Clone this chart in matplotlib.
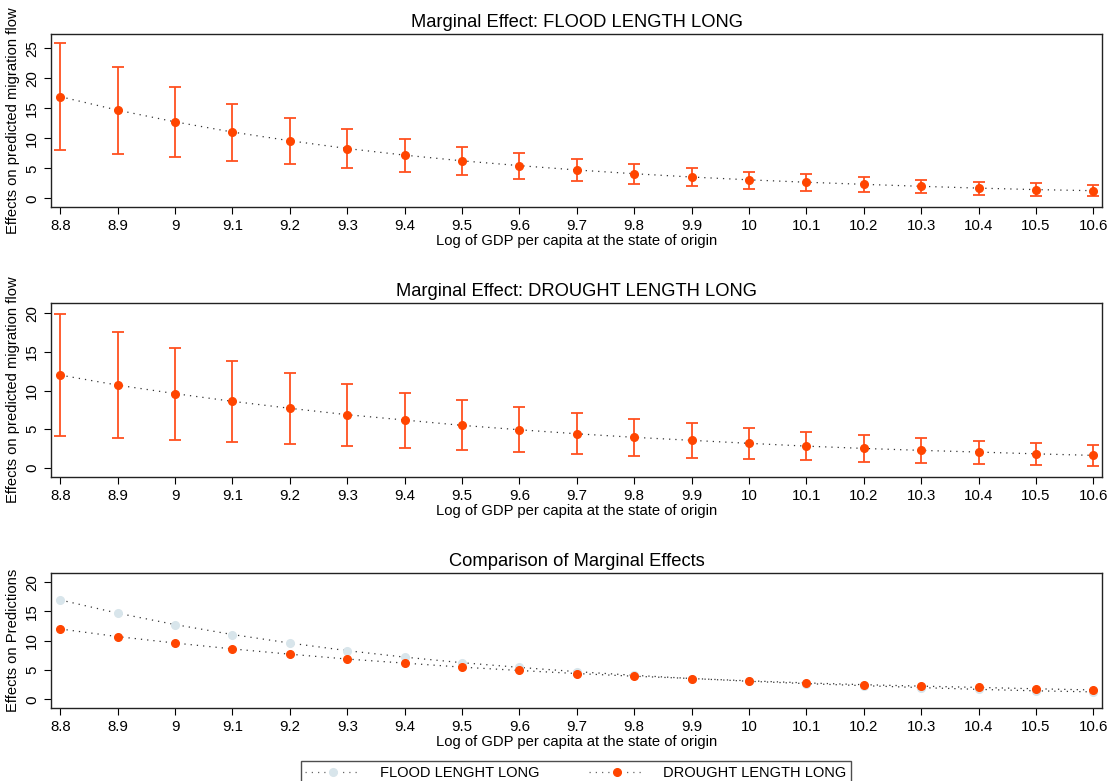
import matplotlib
matplotlib.use("Agg")
import matplotlib.pyplot as plt
from matplotlib.lines import Line2D
from matplotlib.legend_handler import HandlerBase

plt.rcParams['font.family'] = ['Liberation Sans', 'DejaVu Sans']

x = [8.8, 8.9, 9.0, 9.1, 9.2, 9.3, 9.4, 9.5, 9.6, 9.7, 9.8, 9.9, 10.0, 10.1, 10.2, 10.3, 10.4, 10.5, 10.6]
x_labels = ["8.8", "8.9", "9", "9.1", "9.2", "9.3", "9.4", "9.5", "9.6", "9.7", "9.8", "9.9",
            "10", "10.1", "10.2", "10.3", "10.4", "10.5", "10.6"]

flood_est = [16.95, 14.7, 12.75, 11.05, 9.6, 8.3, 7.2, 6.25, 5.45, 4.72, 4.1, 3.55, 3.08, 2.68, 2.33, 2.0, 1.7, 1.45, 1.27]
flood_lo = [8.05, 7.45, 6.9, 6.3, 5.65, 5.0, 4.45, 3.9, 3.27, 2.83, 2.44, 2.0, 1.55, 1.27, 1.0, 0.83, 0.6, 0.43, 0.33]
flood_hi = [25.85, 21.85, 18.55, 15.75, 13.45, 11.6, 9.95, 8.6, 7.5, 6.55, 5.77, 5.05, 4.4, 4.0, 3.55, 3.1, 2.77, 2.5, 2.2]

drought_est = [12.0, 10.7, 9.6, 8.6, 7.7, 6.87, 6.18, 5.49, 4.92, 4.4, 3.94, 3.55, 3.16, 2.8, 2.5, 2.25, 2.03, 1.8, 1.6]
drought_lo = [4.1, 3.9, 3.6, 3.37, 3.1, 2.85, 2.55, 2.25, 2.03, 1.77, 1.51, 1.3, 1.08, 0.95, 0.78, 0.65, 0.48, 0.35, 0.26]
drought_hi = [19.95, 17.6, 15.5, 13.8, 12.3, 10.9, 9.72, 8.73, 7.82, 7.04, 6.35, 5.75, 5.2, 4.67, 4.27, 3.9, 3.5, 3.2, 2.94]

titles = ["Marginal Effect: FLOOD LENGTH LONG", "Marginal Effect: DROUGHT LENGTH LONG", "Comparison of Marginal Effects"]
ylabels = ["Effects on predicted migration flow", "Effects on predicted migration flow", "Effects on Predictions"]
xlabel = "Log of GDP per capita at the state of origin"
legend_labels = ["FLOOD LENGHT LONG", "DROUGHT LENGTH LONG"]

ORANGE = "#FF4500"
ERR = "#FF5020"
LIGHT = "#D8E5EB"
DOT = (0, (1, 4))

W, H = 1112, 781
fig = plt.figure(figsize=(W / 100, H / 100), dpi=100)

def add_ax(top, bottom, left=51, right=1102.3):
    return fig.add_axes([left / W, 1 - bottom / H, (right - left) / W, (bottom - top) / H])

ax1 = add_ax(34, 207.3)
ax2 = add_ax(303.3, 477)
ax3 = add_ax(572.7, 708.3)

def style(ax, title, ylabel, yticks, ylim):
    ax.set_xlim(8.7838, 10.6157)
    ax.set_ylim(*ylim)
    ax.set_xticks(x)
    ax.set_xticklabels(x_labels)
    ax.set_yticks(yticks)
    ax.set_yticklabels([str(t) for t in yticks])
    ax.tick_params(axis='both', labelsize=10.8, length=5, width=0.8, color='black')
    ax.tick_params(axis='y', labelrotation=90)
    for lab in ax.get_yticklabels():
        lab.set_verticalalignment('center')
    ax.set_title(title, fontsize=13.2, pad=5)
    ax.set_ylabel(ylabel, fontsize=10.6, labelpad=4)
    ax.set_xlabel(xlabel, fontsize=10.6, labelpad=1)
    for s in ax.spines.values():
        s.set_linewidth(1.0)
        s.set_color('#222222')

def ci_panel(ax, est, lo, hi):
    ax.plot(x, est, linestyle=DOT, color='#333333', linewidth=0.9, zorder=2)
    yerr = [[e - l for e, l in zip(est, lo)], [h - e for e, h in zip(est, hi)]]
    ax.errorbar(x, est, yerr=yerr, fmt='none', ecolor=ERR, elinewidth=1.3, capsize=4, capthick=1.3, zorder=3)
    ax.plot(x, est, 'o', color=ORANGE, markersize=5.5, zorder=4)

ci_panel(ax1, flood_est, flood_lo, flood_hi)
style(ax1, titles[0], ylabels[0], [0, 5, 10, 15, 20, 25], (-1.5, 27.4))

ci_panel(ax2, drought_est, drought_lo, drought_hi)
style(ax2, titles[1], ylabels[1], [0, 5, 10, 15, 20], (-1.2, 21.3))

ax3.plot(x, flood_est, linestyle=DOT, color='#333333', linewidth=0.9, zorder=2)
ax3.plot(x, flood_est, 'o', color=LIGHT, markersize=5.5, zorder=3)
ax3.plot(x, drought_est, linestyle=DOT, color='#333333', linewidth=0.9, zorder=2)
ax3.plot(x, drought_est, 'o', color=ORANGE, markersize=5.5, zorder=4)
style(ax3, titles[2], ylabels[2], [0, 5, 10, 15, 20], (-1.53, 21.6))


class DotMarkerHandler(HandlerBase):
    def create_artists(self, legend, orig_handle, xdescent, ydescent, width, height, fontsize, trans):
        y = height / 2 - ydescent
        c = orig_handle.get_markerfacecolor()
        ln = Line2D([-xdescent, width - xdescent], [y, y], linestyle=DOT, color='#666666', linewidth=0.9)
        mk = Line2D([width / 2 - xdescent], [y], linestyle='none', marker='o', markersize=5.5,
                    markerfacecolor=c, markeredgecolor=c)
        ln.set_transform(trans)
        mk.set_transform(trans)
        return [ln, mk]


handles = [Line2D([], [], marker='o', markerfacecolor=c, markeredgecolor=c) for c in (LIGHT, ORANGE)]
leg = fig.legend(handles=handles, labels=legend_labels,
                 handler_map={Line2D: DotMarkerHandler()},
                 loc='upper center', bbox_to_anchor=(576 / W, 1 - 754 / H),
                 ncol=2, fontsize=10.5, frameon=True, fancybox=False, edgecolor='#222222',
                 handlelength=3.8, handletextpad=1.3, columnspacing=3.4, borderpad=0.3)
leg.get_frame().set_linewidth(1.0)

fig.savefig("out.png", dpi=100, facecolor='white')
